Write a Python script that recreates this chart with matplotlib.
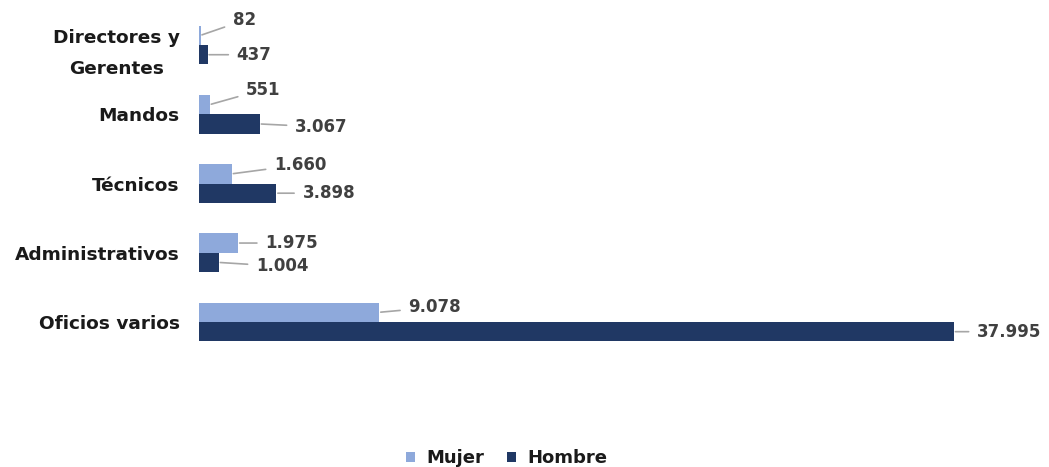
import matplotlib.pyplot as plt
import numpy as np

categorias = ["Directores y\nGerentes", "Mandos", "Técnicos", "Administrativos", "Oficios varios"]
mujer = [82, 551, 1660, 1975, 9078]
hombre = [437, 3067, 3898, 1004, 37995]

# desplazamiento (px) de cada etiqueta respecto al extremo de la barra
off_mujer = [(32, 15), (36, 15), (42, 9), (27, 0), (29, 5)]
off_hombre = [(29, 0), (35, -3), (26, 0), (37, -4), (23, 0)]

c_mujer = "#8EA9DB"
c_hombre = "#203864"


def fmt(v):
    return f"{v:,}".replace(",", ".")


fig = plt.figure(figsize=(10.49, 4.67), dpi=100)
ax = fig.add_axes([199 / 1049, 1 - 356.6 / 467, 755 / 1049, 346.2 / 467])

y = np.arange(len(categorias))
h = 0.28
ax.barh(y - h / 2, mujer, height=h, color=c_mujer, label="Mujer")
ax.barh(y + h / 2, hombre, height=h, color=c_hombre, label="Hombre")

ax.set_xlim(0, 37995)
ax.set_ylim(len(categorias) - 0.5, -0.5)
ax.set_yticks(y)
ax.set_yticklabels(categorias, fontsize=13.3, fontweight="bold", color="#1a1a1a",
                   linespacing=1.9, multialignment="center")
ax.tick_params(axis="y", length=0, pad=14)
ax.set_xticks([])
for s in ax.spines.values():
    s.set_visible(False)

line = dict(arrowstyle="-", color="#a6a6a6", lw=1.2, shrinkA=4, shrinkB=1)
for vals, offs, dy in ((mujer, off_mujer, -h / 2), (hombre, off_hombre, h / 2)):
    for i, (v, (dx, up)) in enumerate(zip(vals, offs)):
        ax.annotate(fmt(v), xy=(v, i + dy), xytext=(dx, up),
                    textcoords="offset pixels", ha="left", va="center",
                    fontsize=12, fontweight="bold", color="#404040",
                    arrowprops=line, annotation_clip=False)

fig.legend(loc="lower center", bbox_to_anchor=(0.483, -0.035), ncol=2,
           frameon=False, handlelength=0.5, handleheight=0.5,
           columnspacing=1.3, handletextpad=0.6,
           prop=dict(size=13, weight="bold"), labelcolor="#1a1a1a")

fig.savefig("out.png", dpi=100)
